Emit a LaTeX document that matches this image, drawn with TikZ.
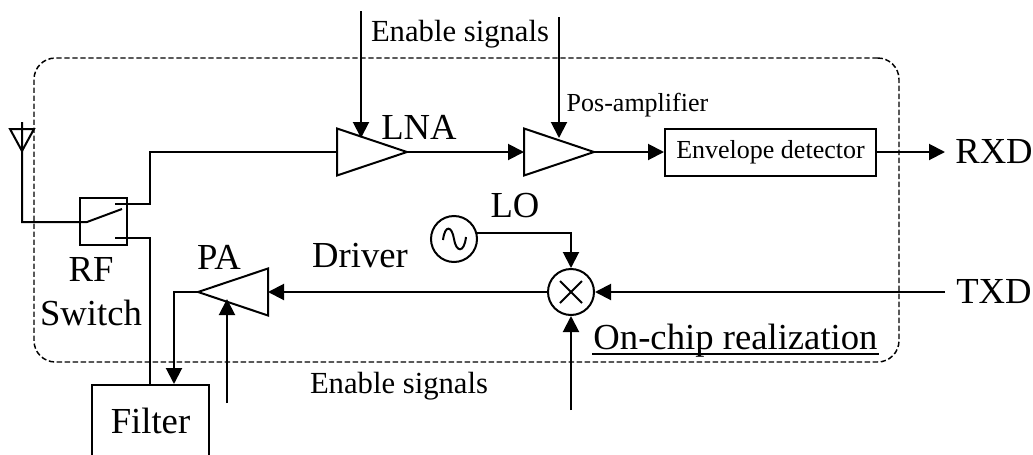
\documentclass[tikz,border=0pt]{standalone}
\usepackage{fontspec}
\setmainfont{Liberation Serif}
\usetikzlibrary{shapes.geometric, arrows.meta, positioning, calc}

\begin{document}
\begin{tikzpicture}[x=0.75pt,y=-0.75pt,line width=1.5pt,
                        block/.style={draw, inner sep=0pt, align=center},
                        amp/.style={draw, isosceles triangle, isosceles triangle stretches, anchor=apex, inner sep=0pt, outer sep=0pt, minimum width=35.25pt, minimum height=52.5pt},
                        ring/.style={draw, circle, inner sep=0pt, minimum size=34.5pt},
                        txt/.style={inner sep=0pt, align=center, font=\fontsize{23}{27}\selectfont},
                        big/.style={inner sep=0pt, align=center, font=\fontsize{27.5}{33}\selectfont},
                        arr/.style={-{Stealth[length=12pt,width=12pt,inset=0pt]}}]
        \useasboundingbox (0,0) rectangle (1033,454);
        \clip (0,0) rectangle (1033,454);
        % on-chip border
        \node[draw, line width=1.1pt, dash pattern=on 4pt off 2pt, rounded corners=16pt, minimum width=648.75pt, minimum height=228pt, inner sep=0pt] (chip) at (466.5,210) {};
        % receive path
        \node[block, minimum width=35.25pt, minimum height=35.25pt] (sw) at (103.5,221.5) {};
        \node[amp] (lna) at (407,152) {};
        \node[amp] (pos) at (594,152) {};
        \node[block, minimum width=158.25pt, minimum height=35.25pt, font=\fontsize{19.5}{22}\selectfont] (env) at (770.5,152) {Envelope detector};
        \coordinate (rxdend) at (945,152);
        \coordinate (lnaen) at (361,11);
        \coordinate (posen) at (559,17);
        % transmit path
        \node[amp, shape border rotate=180] (pa) at (198,292) {};
        \node[ring] (mix) at (571,292) {};
        \node[ring] (lo) at (454,239) {};
        \node[block, minimum width=87.75pt, minimum height=54pt, font=\fontsize{27.5}{33}\selectfont] (filter) at (150.5,421) {Filter};
        \coordinate (txdend) at (945,292);
        \coordinate (paen) at (227,403);
        \coordinate (mixen) at (571,410);
        % antenna
        \coordinate (antbot) at (22,151);
        \coordinate (anttop) at (22,122);
        \coordinate (blade) at (87,222);
        \coordinate (bladeend) at (122,209);
        \coordinate (upper) at (115,204);
        \coordinate (lower) at (115,238);
        \draw (10,129) -- (34,129) -- (antbot) -- cycle;
        \draw (anttop) -- (22,222) -- (blade) -- (bladeend);
        \draw (upper) -- (150,204) -- (150,152) -- (lna.lower side);
        \draw (lower) -- (150,238) -- (filter.north -| 150,238);
        % arrows
        \draw[arr] (lna.apex) -- (pos.lower side);
        \draw[arr] (pos.apex) -- (env.west);
        \draw[arr] (env.east) -- (rxdend);
        \draw[arr] (lnaen) -- (361,138);
        \draw[arr] (posen) -- (559,138);
        \draw[arr] (txdend) -- (mix.east);
        \draw[arr] (mix.west) -- (pa.lower side);
        \draw[arr] (pa.apex) -- (174,292) -- (filter.north -| 174,292);
        \draw[arr] (paen) -- (227,299);
        \draw[arr] (mixen) -- (mix.south);
        \draw[arr] (lo.14) -| (mix.north);
        % mixer cross and LO wave
        \draw ($(mix)+(-11,-11)$) -- ($(mix)+(11,11)$);
        \draw ($(mix)+(-11,11)$) -- ($(mix)+(11,-11)$);
        \draw ($(lo)+(-11,1)$) .. controls ($(lo)+(-9,-15)$) and ($(lo)+(-2,-13)$) .. (lo.center) .. controls ($(lo)+(2,13)$) and ($(lo)+(10,15)$) .. ($(lo)+(12,-2)$);
        % labels
        \node[txt] (en1) at (460,34) {Enable signals};
        \node[txt] (en2) at (399,386) {Enable signals};
        \node[inner sep=0pt, font=\fontsize{19.5}{22}\selectfont] (poslbl) at (637.5,105) {Pos-amplifier};
        \node[big] (lnalbl) at (419,127) {LNA};
        \node[big] (lolbl) at (515,206) {LO};
        \node[big] (palbl) at (219,257) {PA};
        \node[big] (drv) at (360,256) {Driver};
        \node[big] (rf) at (91,292) {RF\\Switch};
        \node[big] (rxd) at (994,152) {RXD};
        \node[big] (txd) at (994,292) {TXD};
        \node[big, anchor=base] (chiplbl) at (735.5,349) {On-chip realization};
        \draw ([yshift=-3.5pt]chiplbl.base west) -- ([yshift=-3.5pt]chiplbl.base east);
    \end{tikzpicture}
\end{document}
